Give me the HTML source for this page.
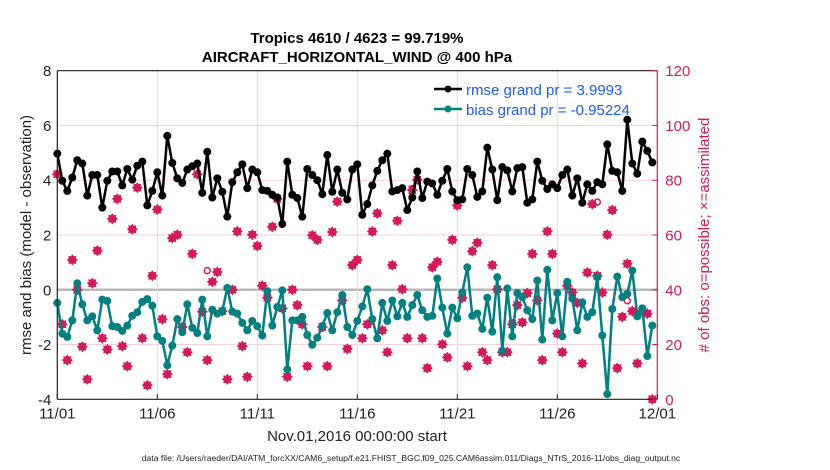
<!DOCTYPE html>
<html><head><meta charset="utf-8"><style>
body{margin:0;background:#fff;}
svg{display:block;font-family:"Liberation Sans",Arial,sans-serif;}
</style></head><body>
<svg id="chart" width="830" height="470" viewBox="0 0 830 470">
<text x="357" y="43" text-anchor="middle" font-size="15" font-weight="bold">Tropics 4610 / 4623 = 99.719%</text>
<text x="357" y="62" text-anchor="middle" font-size="15" font-weight="bold">AIRCRAFT_HORIZONTAL_WIND @ 400 hPa</text>
<g id="grid"></g>
<g id="marks"></g>
<g id="axes"></g>
<text transform="translate(31,235) rotate(-90)" text-anchor="middle" font-size="15" fill="#222">rmse and bias (model - observation)</text>
<text transform="translate(709,235) rotate(-90)" text-anchor="middle" font-size="15" fill="#d6195a"># of obs: o=possible; ×=assimilated</text>
<text x="357" y="441" text-anchor="middle" font-size="15" fill="#222">Nov.01,2016 00:00:00 start</text>
<text x="411" y="461" text-anchor="middle" font-size="8.6" fill="#222">data file: /Users/raeder/DAI/ATM_forcXX/CAM6_setup/f.e21.FHIST_BGC.f09_025.CAM6assim.011/Diags_NTrS_2016-11/obs_diag_output.nc</text>
<g>
<line x1="434" y1="89" x2="462" y2="89" stroke="#000" stroke-width="2.5"/>
<circle cx="448" cy="89" r="3.5" fill="#000"/>
<text x="466" y="95" font-size="15" fill="#1a5cff">rmse grand pr = 3.9993</text>
<line x1="434" y1="109" x2="462" y2="109" stroke="#008080" stroke-width="2.5"/>
<circle cx="448" cy="109" r="3.5" fill="#008080"/>
<text x="466" y="115" font-size="15" fill="#1a5cff">bias grand pr = -0.95224</text>
</g>
</svg>
<script>
const rmse=[4.97,3.98,3.61,4.10,4.73,4.61,3.44,4.19,4.19,3.0,3.98,4.32,4.32,3.81,4.41,4.02,4.53,4.68,3.08,3.61,4.29,3.44,5.62,4.63,4.07,3.90,4.39,4.51,4.61,3.54,5.04,3.37,
4.07,3.58,2.67,3.93,4.29,4.58,3.71,4.39,4.29,3.64,3.61,3.47,3.37,2.4,4.68,3.47,3.35,2.67,4.41,4.19,4.0,3.49,4.92,3.58,4.39,3.54,3.3,4.39,4.58,2.74,3.13,
3.81,4.34,4.73,4.97,3.59,3.64,3.71,2.91,3.37,4.32,3.35,3.95,3.88,3.47,3.98,4.41,3.59,3.27,3.3,4.41,4.19,3.39,3.59,5.19,4.39,3.27,4.48,4.36,3.59,4.44,4.48,
3.18,3.3,4.68,3.98,3.68,3.85,3.71,4.19,4.39,3.44,4.07,3.18,3.85,3.61,3.93,3.85,5.31,4.34,4.29,3.61,6.21,4.61,4.24,5.41,5.07,4.65];
const bias=[-0.48,-1.6,-1.72,-1.12,0.24,-0.53,-1.12,-0.97,-1.48,-0.36,-0.41,-1.33,-1.36,-1.5,-1.31,-0.95,-0.82,-0.44,-0.34,-0.58,-1.7,-1.87,-2.76,-2.04,-1.07,-1.55,-0.53,-1.39,-1.58,-0.36,-1.7,-0.73,
-0.87,-0.78,0.07,-0.8,-0.87,-1.21,-1.48,-1.14,-1.33,-1.67,-0.05,-1.31,-0.63,-0.02,-2.91,-1.12,-1.12,-0.99,-1.65,-2.01,-1.75,-1.33,-0.85,-1.48,-0.82,-0.19,-1.36,-1.65,-1.14,-0.61,0.02,
-1.07,-1.77,-0.48,-1.14,-0.39,-0.97,-0.48,-0.99,-0.56,-0.19,-0.75,-0.99,-0.95,0.41,-0.65,-1.6,-0.65,-1.04,-0.1,0.82,-0.95,-0.87,-1.43,-0.29,-1.53,0.46,-2.23,0.05,-1.7,-0.12,-0.27,
-0.75,-1.07,0.34,-1.82,0.73,-1.12,-0.12,-1.70,0.29,-0.32,-1.48,-0.46,-0.99,-0.82,0.46,-1.67,-3.81,-0.70,0.48,-0.27,-0.15,0.7,-0.97,-0.68,-2.42,-1.31];
const nAssim=[82.2,27.4,14.3,50.9,40,19.2,7.3,42.4,54.3,22.3,18.2,65.9,73.2,19.4,12.1,62.1,77.3,22.3,5.1,45.1,69.3,29.3,9.2,58.9,60.1,26.4,17.2,53.1,82.2,32,14.3,42.9,
46.5,32.2,7.3,40,61.3,19.4,8.2,60.1,56,41.5,37.1,63,73.2,33.2,8.2,40,34.4,27.4,12.1,59.9,58.2,26.4,12.1,61.1,72.2,36.1,18.4,49,50.9,22.3,27.4,
61.3,67.9,25.2,17.2,49,65.2,40.2,22.3,76.4,80.2,22.3,11.4,48.2,50.2,20.1,15.3,58.2,70.8,37.1,12.1,54.1,57.2,17.2,14.3,49,40.2,17.2,17.2,27.4,34.4,28.1,
38.8,53.1,36.1,14.3,61.3,53.1,24,17.2,41.5,39,35.2,13.1,46.3,71.3,45.1,39,60.1,69.1,11.4,30.1,49.5,32.2,13.1,32.2,31.3,0];
const possibleIdx=[30,71,108,114];
const possibleVal=[47,77,72,36];
const xTickLabels=["11/01","11/06","11/11","11/16","11/21","11/26","12/01"];
const xTickDays=[0,5,10,15,20,25,30];
const yTicks=[-4,-2,0,2,4,6,8];
const rTicks=[0,20,40,60,80,100,120];

const X0=57.3,X1=657.3,Y8=70.7,Ym4=399.3;
function xs(d){return X0+(d/30)*(X1-X0);}
function ys(v){return Ym4-(v+4)/12*(Ym4-Y8);}
function yr(c){return ys(c/10-4);}
function dayOf(i){return i*0.25;}
const NS="http://www.w3.org/2000/svg";
function mk(tag,attrs,parent){const e=document.createElementNS(NS,tag);for(const k in attrs)e.setAttribute(k,attrs[k]);parent.appendChild(e);return e;}
const grid=document.getElementById('grid'),marks=document.getElementById('marks'),axes=document.getElementById('axes');

yTicks.forEach(v=>{
  if(v===-4||v===8)return;
  const l=mk('line',{x1:X0,x2:X1,y1:ys(v),y2:ys(v),stroke:v===0?'#b8b8b8':'#f7cfe0','stroke-width':v===0?2.5:1},grid);
  
  
});
xTickDays.forEach(d=>{
  if(d===0||d===30)return;
  const l=mk('line',{x1:xs(d),x2:xs(d),y1:Y8,y2:Ym4,stroke:'#dcdcdc','stroke-width':1},grid);
  
  
});

function star(cx,cy,parent){
  const r=5.6,ri=3.9;let p=[];
  for(let k=0;k<16;k++){const a=k*Math.PI/8;const rr=k%2?ri:r;p.push((cx+rr*Math.sin(a)).toFixed(1)+','+(cy-rr*Math.cos(a)).toFixed(1));}
  return mk('polygon',{points:p.join(' '),fill:'#d6195a'},parent);
}
possibleIdx.forEach((i,k)=>{
  const c=mk('circle',{cx:xs(dayOf(i)),cy:yr(possibleVal[k]),r:3,fill:'none',stroke:'#d6195a','stroke-width':1.5},marks);
  
  
});
nAssim.forEach((c,i)=>{
  const s=star(xs(dayOf(i)),yr(c),marks);
  
  
});

function series(vals,color,name){
  const pts=vals.map((v,i)=>xs(dayOf(i)).toFixed(1)+','+ys(v).toFixed(1)).join(' ');
  const pl=mk('polyline',{points:pts,fill:'none',stroke:color,'stroke-width':2.5,'stroke-linejoin':'round'},marks);
  
  
  vals.forEach((v,i)=>{
    const c=mk('circle',{cx:xs(dayOf(i)),cy:ys(v),r:4,fill:color},marks);
    
    
  });
}
series(bias,'#008080','bias');
series(rmse,'#000000','rmse');

let a=mk('line',{x1:X0,x2:X1,y1:Ym4,y2:Ym4,stroke:'#2a1a1a','stroke-width':1.2},axes);

a=mk('line',{x1:X0,x2:X0,y1:Y8,y2:Ym4,stroke:'#2a1a1a','stroke-width':1.2},axes);

a=mk('line',{x1:X0,x2:X1,y1:Y8,y2:Y8,stroke:'#2a1a1a','stroke-width':1.2},axes);

a=mk('line',{x1:X1,x2:X1,y1:Y8,y2:Ym4,stroke:'#d6195a','stroke-width':1.2},axes);

xTickDays.forEach((d,k)=>{
  const t=mk('line',{x1:xs(d),x2:xs(d),y1:Ym4,y2:Ym4-5,stroke:'#2a1a1a'},axes);
  
  const tx=mk('text',{x:xs(d),y:Ym4+19,'text-anchor':'middle','font-size':15,fill:'#222'},axes);
  tx.textContent=xTickLabels[k];
  
});
yTicks.forEach(v=>{
  const tx=mk('text',{x:X0-6,y:ys(v)+5.5,'text-anchor':'end','font-size':15,fill:'#222'},axes);
  tx.textContent=v;
  
});
rTicks.forEach(c=>{
  const t=mk('line',{x1:X1,x2:X1-5,y1:yr(c),y2:yr(c),stroke:'#d6195a'},axes);
  
  const tx=mk('text',{x:X1+8,y:yr(c)+5.5,'text-anchor':'start','font-size':15,fill:'#d6195a'},axes);
  tx.textContent=c;
  
});
</script>
</body></html>
